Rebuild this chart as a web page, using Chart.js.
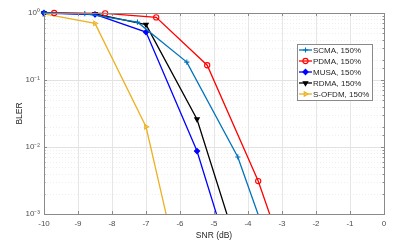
<!DOCTYPE html>
<html>
<head>
<meta charset="utf-8">
<script src="https://cdn.jsdelivr.net/npm/chart.js@4.4.1/dist/chart.umd.min.js"></script>
<style>
html, body { margin: 0; padding: 0; background: #fff; }
#wrap { width: 410px; height: 241px; }
</style>
</head>
<body>
<div id="wrap"><canvas id="c"></canvas></div>
<script>
Chart.defaults.font.family = "'Liberation Sans', Arial, sans-serif";
Chart.defaults.color = '#4d4d4d';

// SNR (dB) / BLER per scheme
const snrSCMA = [-10, -8.8, -7.25, -5.8, -4.3, -2.8];
const blerSCMA = [1.0, 0.98, 0.73, 0.185, 0.0071, 0.00005];
const snrPDMA = [-9.7, -8.2, -6.7, -5.2, -3.7, -2.2];
const blerPDMA = [1.0, 0.99, 0.86, 0.166, 0.0031, 0.00002];
const snrMUSA = [-10, -8.5, -7, -5.5, -4];
const blerMUSA = [1.0, 0.95, 0.52, 0.0087, 0.00003];
const snrRDMA = [-10, -8.5, -7, -5.5, -4];
const blerRDMA = [1.0, 0.97, 0.67, 0.026, 0.0001];
const snrSOFDM = [-10, -8.5, -7, -5.5];
const blerSOFDM = [0.97, 0.70, 0.020, 0.00001];

const names = ['SCMA, 150%', 'PDMA, 150%', 'MUSA, 150%', 'RDMA, 150%', 'S-OFDM, 150%'];
const colors = ['#0072BD', '#FF0000', '#0000FF', '#000000', '#EDB120'];
const styles = ['cross', 'circle', 'rectRot', 'triangle', 'triangle'];
const rotations = [0, 0, 0, 180, 90];
const filled = [false, false, true, true, false];
const xs = [snrSCMA, snrPDMA, snrMUSA, snrRDMA, snrSOFDM];
const ys = [blerSCMA, blerPDMA, blerMUSA, blerRDMA, blerSOFDM];

const sup = { '0': '⁰', '-1': '⁻¹', '-2': '⁻²', '-3': '⁻³' };

const isMajor = v => { const e = Math.log10(v); return Math.abs(e - Math.round(e)) < 1e-6; };

const datasets = names.map((n, i) => ({
    label: n,
    data: xs[i].map((x, k) => ({ x: x, y: ys[i][k] })),
    borderColor: colors[i],
    backgroundColor: colors[i],
    borderWidth: 1.3,
    showLine: true,
    pointStyle: styles[i],
    pointRotation: rotations[i],
    pointRadius: 2.6,
    pointBorderWidth: 1.1,
    pointBackgroundColor: filled[i] ? colors[i] : 'rgba(0,0,0,0)',
    pointBorderColor: colors[i],
    clip: { left: 6, top: 6, right: 0, bottom: 0 }
}));

const boxPlugin = {
    id: 'box',
    beforeDatasetsDraw(chart) {
        const { ctx, chartArea: a, scales: { y } } = chart;
        ctx.save();
        ctx.strokeStyle = '#e4e4e4';
        ctx.lineWidth = 0.6;
        ctx.setLineDash([1, 2]);
        y.ticks.forEach(t => {
            if (isMajor(t.value)) return;
            const py = Math.round(y.getPixelForValue(t.value)) + 0.5;
            ctx.beginPath(); ctx.moveTo(a.left, py); ctx.lineTo(a.right, py); ctx.stroke();
        });
        ctx.restore();
    },
    afterDraw(chart) {
        const { ctx, chartArea: a, scales: { x, y } } = chart;
        ctx.save();
        ctx.strokeStyle = '#8a8a8a';
        ctx.lineWidth = 1;
        ctx.strokeRect(a.left + 0.5, a.top + 0.5, a.right - a.left, a.bottom - a.top);
        ctx.beginPath();
        x.ticks.forEach(t => {
            const px = Math.round(x.getPixelForValue(t.value)) + 0.5;
            ctx.moveTo(px, a.bottom); ctx.lineTo(px, a.bottom - 3);
            ctx.moveTo(px, a.top); ctx.lineTo(px, a.top + 3);
        });
        y.ticks.forEach(t => {
            const py = Math.round(y.getPixelForValue(t.value)) + 0.5;
            const len = isMajor(t.value) ? 3 : 1.5;
            ctx.moveTo(a.left, py); ctx.lineTo(a.left + len, py);
            ctx.moveTo(a.right, py); ctx.lineTo(a.right - len, py);
        });
        ctx.stroke();

        // legend
        const lx = 297, ly = 44, lw = 75, lh = 56;
        ctx.fillStyle = '#ffffff';
        ctx.fillRect(lx, ly, lw, lh);
        ctx.strokeStyle = '#8a8a8a';
        ctx.strokeRect(lx + 0.5, ly + 0.5, lw, lh);
        ctx.font = "8px 'Liberation Sans', Arial, sans-serif";
        ctx.textBaseline = 'middle';
        names.forEach((n, i) => {
            const cy = ly + 6 + i * 11;
            ctx.strokeStyle = colors[i];
            ctx.lineWidth = 1.3;
            ctx.beginPath(); ctx.moveTo(lx + 2, cy); ctx.lineTo(lx + 15, cy); ctx.stroke();
            ctx.fillStyle = filled[i] ? colors[i] : 'rgba(0,0,0,0)';
            ctx.lineWidth = 1.1;
            Chart.helpers.drawPoint(ctx, { pointStyle: styles[i], radius: 2.6, rotation: rotations[i], borderWidth: 1.1 }, lx + 8.5, cy);
            ctx.fillStyle = '#262626';
            ctx.fillText(n, lx + 16, cy + 0.5);
        });
        ctx.restore();
    }
};

new Chart(document.getElementById('c'), {
    type: 'scatter',
    data: { datasets: datasets },
    plugins: [boxPlugin],
    options: {
        responsive: true,
        maintainAspectRatio: false,
        animation: false,
        layout: { padding: { left: 0, top: 13, right: 26, bottom: 0 } },
        plugins: { legend: { display: false }, tooltip: { enabled: false } },
        scales: {
            x: {
                type: 'linear', min: -10, max: 0,
                afterFit: s => { s.height = 27; },
                ticks: { stepSize: 1, padding: 5, font: { size: 8 }, color: '#4d4d4d' },
                grid: { color: '#e6e6e6', drawTicks: false },
                border: { display: false },
                title: { display: true, text: 'SNR (dB)', font: { size: 8.5 }, color: '#262626', padding: { top: 0, bottom: 0 } }
            },
            y: {
                type: 'logarithmic', min: 0.001, max: 1,
                afterFit: s => { s.width = 44; },
                ticks: {
                    autoSkip: false, padding: 4, font: { size: 8 }, color: '#4d4d4d',
                    callback: v => isMajor(v) ? '10' + sup[String(Math.round(Math.log10(v)))] : ''
                },
                grid: { color: c => isMajor(c.tick.value) ? '#e2e2e2' : 'rgba(0,0,0,0)', drawTicks: false },
                border: { display: false },
                title: { display: true, text: 'BLER', font: { size: 8.5 }, color: '#262626', padding: { top: 15, bottom: 0 } }
            }
        }
    }
});
</script>
</body>
</html>
